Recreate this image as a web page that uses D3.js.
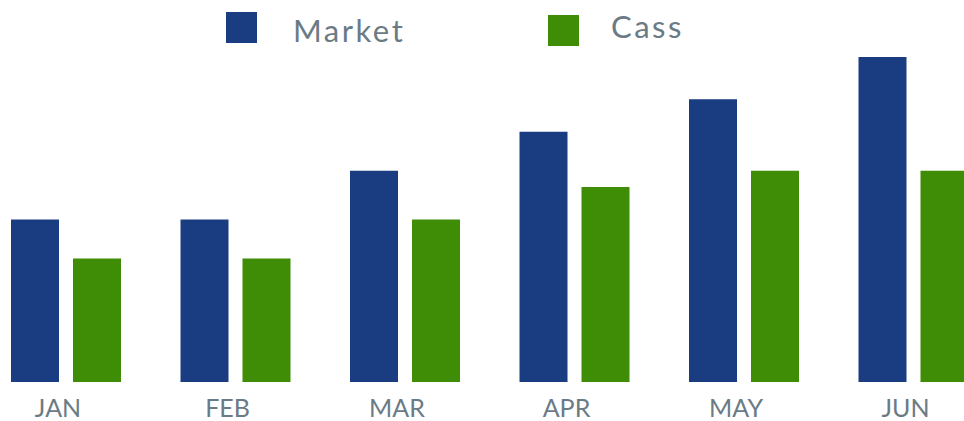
<!DOCTYPE html>
<html>
<head>
<meta charset="utf-8">
<script src="https://cdn.jsdelivr.net/npm/d3@7"></script>
<style>
  html, body { margin: 0; padding: 0; background: #fff; overflow: hidden; }
  #chart { width: 964px; height: 421px; }
  text { font-family: Lato, "Open Sans", sans-serif; fill: #6b7b85; }
</style>
</head>
<body>
<div id="chart"></div>
<script>
"use strict";

const months = ["JAN", "FEB", "MAR", "APR", "MAY", "JUN"];
const seriesNames = ["Market", "Cass"];
const market = [5.0, 5.0, 6.5, 7.7, 8.7, 10.0];
const cass = [3.8, 3.8, 5.0, 6.0, 6.5, 6.5];

const colors = { Market: "#1a3d82", Cass: "#3f8c06" };

const w = 964;
const h = 421;

// build rows from the arrays
const data = months.map((m, i) => ({ month: m, Market: market[i], Cass: cass[i] }));

const svg = d3.select("#chart")
  .append("svg")
  .attr("width", w)
  .attr("height", h);

// month centres
const x0 = d3.scalePoint()
  .domain(months)
  .range([66, 913.5]);

// series inside a month
const x1 = d3.scaleBand()
  .domain(seriesNames)
  .range([-55, 55])
  .paddingInner(0.2258)
  .paddingOuter(0);

const y = d3.scaleLinear()
  .domain([0, 10])
  .range([382, 57]);

const groups = svg.append("g")
  .selectAll("g")
  .data(data)
  .enter()
  .append("g")
  .attr("transform", (d) => `translate(${x0(d.month)},0)`);

groups.selectAll("rect")
  .data((d) => seriesNames.map((s) => ({ key: s, value: d[s] })))
  .enter()
  .append("rect")
  .attr("x", (d) => x1(d.key))
  .attr("width", x1.bandwidth())
  .attr("y", (d) => y(d.value))
  .attr("height", (d) => y(0) - y(d.value))
  .attr("fill", (d) => colors[d.key]);

// month labels
svg.append("g")
  .selectAll("text")
  .data(months)
  .enter()
  .append("text")
  .attr("x", (m) => x0(m) - 8)
  .attr("y", 417)
  .attr("text-anchor", "middle")
  .style("font-size", "25px")
  .text((m) => m);

// legend
const legendItems = [
  { name: "Market", x: 226, y: 12, tx: 293, ty: 42 },
  { name: "Cass", x: 548, y: 15, tx: 611, ty: 38 },
];

const legend = svg.append("g").attr("id", "legend");

legend.selectAll("rect")
  .data(legendItems)
  .enter()
  .append("rect")
  .attr("x", (d) => d.x)
  .attr("y", (d) => d.y)
  .attr("width", 31)
  .attr("height", 31)
  .attr("fill", (d) => colors[d.name]);

legend.selectAll("text")
  .data(legendItems)
  .enter()
  .append("text")
  .attr("x", (d) => d.tx)
  .attr("y", (d) => d.ty)
  .style("font-size", "31px")
  .style("letter-spacing", "2.5px")
  .text((d) => d.name);
</script>
</body>
</html>
